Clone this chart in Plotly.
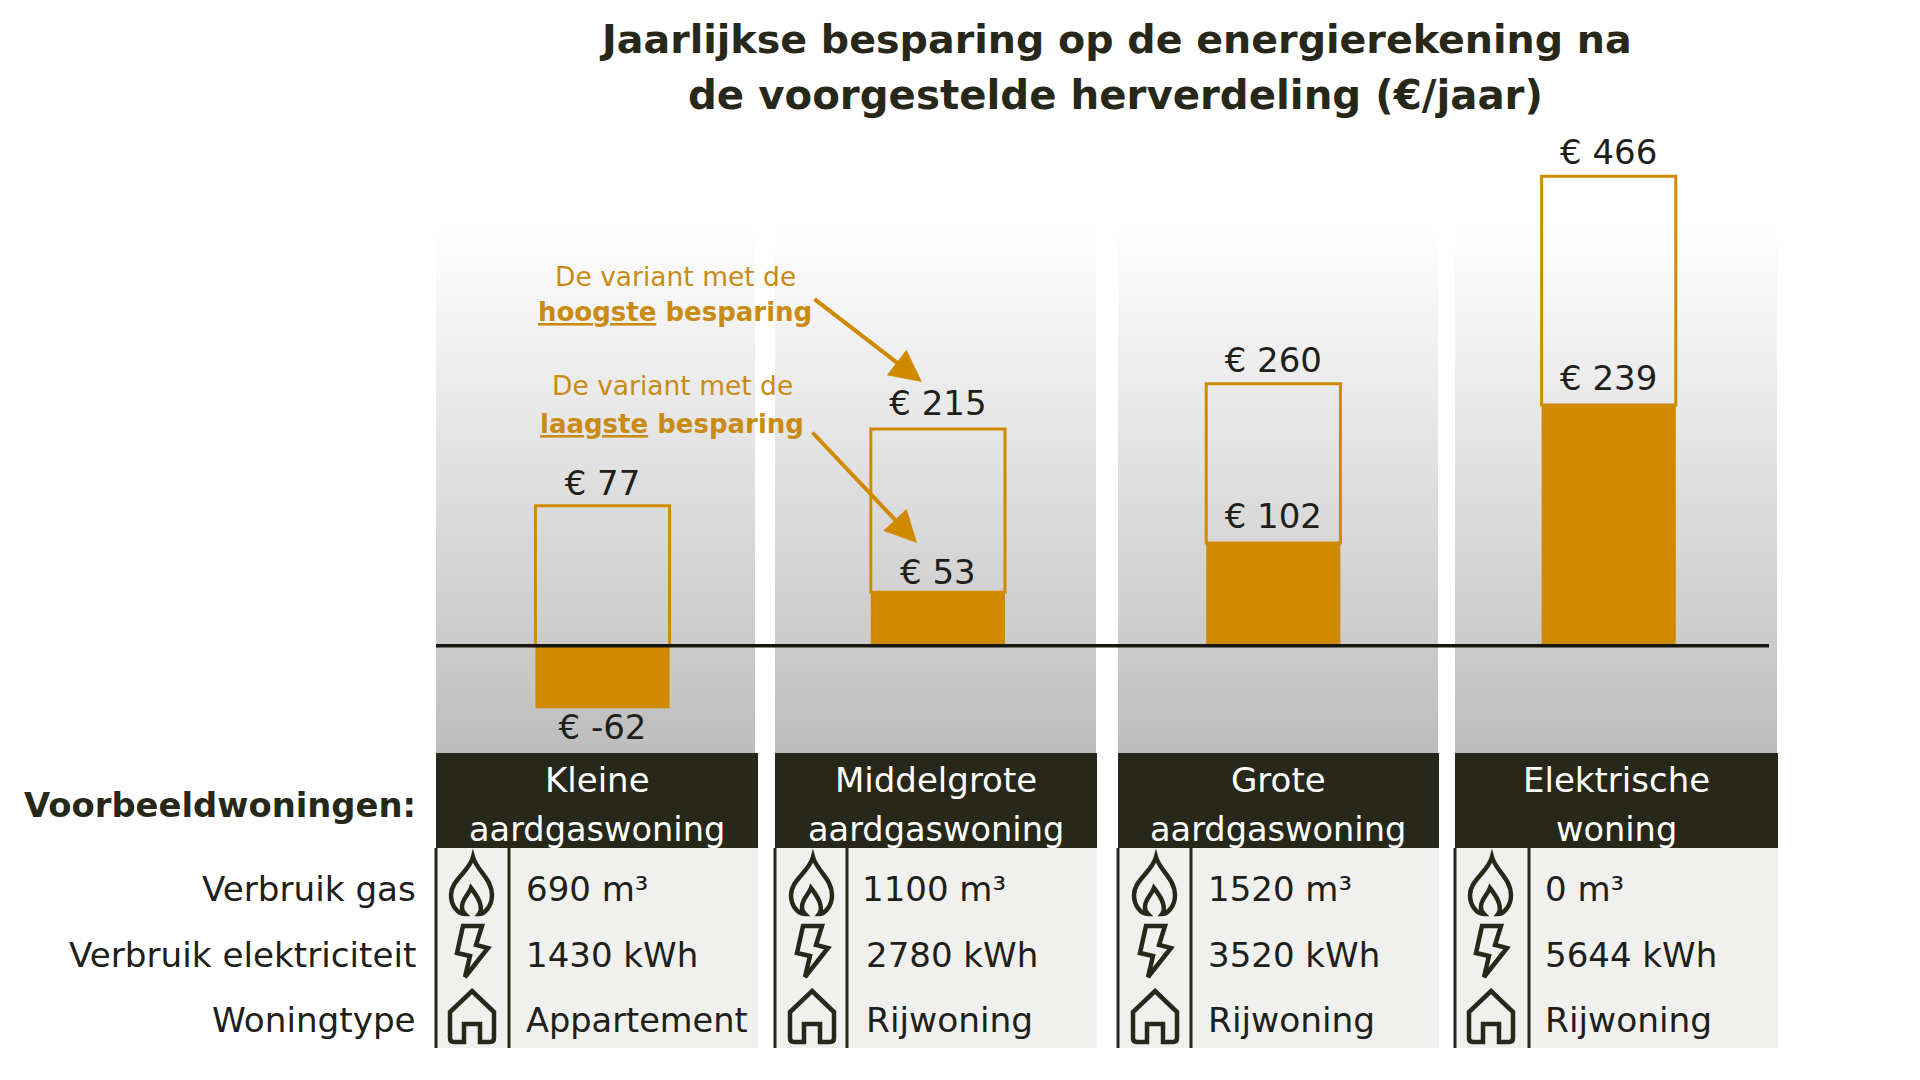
import plotly.graph_objects as go

# ---------- data ----------
categories = ["Kleine aardgaswoning", "Middelgrote aardgaswoning", "Grote aardgaswoning", "Elektrische woning"]
low_values = [-62, 53, 102, 239]
high_values = [77, 215, 260, 466]
# height of the outlined block that sits on the solid block, as drawn in the source chart
range_values = [139, 162, 158, 227]

header_line1 = ["Kleine", "Middelgrote", "Grote", "Elektrische"]
header_line2 = ["aardgaswoning", "aardgaswoning", "aardgaswoning", "woning"]
gas_values = ["690 m³", "1100 m³", "1520 m³", "0 m³"]
power_values = ["1430 kWh", "2780 kWh", "3520 kWh", "5644 kWh"]
type_values = ["Appartement", "Rijwoning", "Rijwoning", "Rijwoning"]
row_labels = ["Verbruik gas", "Verbruik elektriciteit", "Woningtype"]

title_lines = ["Jaarlijkse besparing op de energierekening na", "de voorgestelde herverdeling (€/jaar)"]

# ---------- layout constants (pixels of the 1920x1080 page) ----------
W, H = 1920, 1080
FONT = "DejaVu Sans"
AMBER = "#d08a00"
AMBER_TEXT = "#c98b14"
DARK = "#28281a"
INK = "#20201a"
TABLE_BG = "#f0f0ee"

panel_left = [436, 775, 1118, 1455]
panel_right = [758, 1097, 1439, 1778]
grad_right = [755, 1096, 1438, 1777]
divider_x = [509, 847, 1191, 1529]
icon_x = [472, 812, 1155, 1491]
gas_x = [526, 862, 1208, 1545]
other_x = [526, 866, 1208, 1545]
header_x = [597, 936, 1278, 1616]
GRAD_TOP, TABLE_TOP, BODY_TOP, TABLE_BOTTOM = 225, 753, 848, 1048
ROW_Y = [889, 955, 1020]
type_sizes = [33.6, 34.4, 34.4, 34.4]
# fine placement of the value labels, in euro units of the value axis
high_label_nudge = [2.4, 6, 3.7, 3.7]
low_label_nudge = [-5, 0, 6, 6]

# value-axis mapping: 0 at y=645.7 px, 1.0075 px per euro
PX_PER_EUR = 1.0075
ZERO_PX = 645.7
y_range = [(ZERO_PX - H) / PX_PER_EUR, ZERO_PX / PX_PER_EUR]
CAT_FIRST, CAT_STEP = 602.5, 335.4
x_range = [(0 - CAT_FIRST) / CAT_STEP, (W - CAT_FIRST) / CAT_STEP]

fig = go.Figure()

# gradient backdrops on the pixel axes
for l, r in zip(panel_left, grad_right):
    fig.add_trace(go.Scatter(
        x=[l, r, r, l, l], y=[GRAD_TOP, GRAD_TOP, TABLE_TOP, TABLE_TOP, GRAD_TOP],
        xaxis="x", yaxis="y", mode="lines", line=dict(width=0), fill="toself",
        fillgradient=dict(type="vertical", colorscale=[[0, "#bdbdbd"], [1, "#ffffff"]]),
        hoverinfo="skip", showlegend=False))

# bars on the value axes
fig.add_trace(go.Bar(x=categories, y=low_values, xaxis="x2", yaxis="y2", width=0.4,
                     marker=dict(color=AMBER, line=dict(width=0)), name="Laagste besparing", showlegend=False))
fig.add_trace(go.Bar(x=categories, y=range_values, xaxis="x2", yaxis="y2", width=0.4,
                     marker=dict(color="rgba(0,0,0,0)", line=dict(color=AMBER, width=3)),
                     name="Hoogste besparing", showlegend=False))

# value labels
high_tops = [max(v, 0) + r + n for v, r, n in zip(low_values, range_values, high_label_nudge)]
low_tops = [v + n for v, n in zip(low_values, low_label_nudge)]
fig.add_trace(go.Scatter(x=categories, y=high_tops, xaxis="x2", yaxis="y2", mode="text",
                         text=[f"€ {v}" for v in high_values], textposition="top center",
                         textfont=dict(family=FONT, size=34, color=INK), showlegend=False, hoverinfo="skip"))
fig.add_trace(go.Scatter(x=categories, y=low_tops, xaxis="x2", yaxis="y2", mode="text",
                         text=[f"€ {v}" for v in low_values],
                         textposition=["bottom center" if v < 0 else "top center" for v in low_values],
                         textfont=dict(family=FONT, size=34, color=INK), showlegend=False, hoverinfo="skip"))

shapes = []
annotations = []


def text(x, y, s, size=34, color=INK, anchor="center", bold=False):
    annotations.append(dict(xref="x", yref="y", x=x, y=y, text=f"<b>{s}</b>" if bold else s, showarrow=False,
                            xanchor=anchor, yanchor="middle",
                            font=dict(family=FONT, size=size, color=color)))


def arrow(x0, y0, x1, y1):
    annotations.append(dict(xref="x", yref="y", axref="x", ayref="y", x=x1, y=y1, ax=x0, ay=y0, text="",
                            showarrow=True, arrowhead=2, arrowsize=1.6, arrowwidth=4, arrowcolor=AMBER))


def rect(x0, y0, x1, y1, color):
    shapes.append(dict(type="rect", xref="x", yref="y", x0=x0, y0=y0, x1=x1, y1=y1,
                       fillcolor=color, line=dict(width=0), layer="below"))


FLAME = "M1,-29 C5,-15 20,-7 20,9 C20,21 12,28 7,28 C10,24 10,16 -1,2 C-3,8 -11,14 -10,22 C-10,25 -8,27 -7,28 C-14,28 -21,20 -21,9 C-21,-6 -3,-14 1,-29 Z"
BOLT = "M-9,-25 L10,-25 L4,-6 L16,-3 L-7,26 L-2,5 L-15,2 Z"
HOUSE = "M0,-26 L22,-5 L22,21 Q22,25 18,25 L8,25 L8,7 L-8,7 L-8,25 L-18,25 Q-22,25 -22,21 L-22,-5 Z"


def icon(path, cx, cy):
    out = []
    for token in path.split():
        cmd = ""
        if token[0].isalpha():
            cmd, token = token[0], token[1:]
        if token:
            xs, ys = token.split(",")
            out.append(f"{cmd}{float(xs) + cx},{float(ys) + cy}")
        else:
            out.append(cmd)
    shapes.append(dict(type="path", xref="x", yref="y", path=" ".join(out), fillcolor="rgba(0,0,0,0)",
                       line=dict(color=DARK, width=4.5), layer="above"))


# title
text(1115, 39, title_lines[0], size=39.6, color=DARK, bold=True)
text(1115, 95.5, title_lines[1], size=40.3, color=DARK, bold=True)

# callouts
text(675.5, 276, "De variant met de", size=26.5, color=AMBER_TEXT)
text(675, 312, "<u>hoogste</u> besparing", size=26, color=AMBER_TEXT, bold=True)
text(672, 385.5, "De variant met de", size=26.5, color=AMBER_TEXT)
text(672, 424, "<u>laagste</u> besparing", size=26, color=AMBER_TEXT, bold=True)
arrow(813, 298, 922, 382)
arrow(811, 431, 917, 543)

# left column
text(418, 805, "Voorbeeldwoningen:", size=33.8, color=DARK, anchor="right", bold=True)
for y, label in zip(ROW_Y, row_labels):
    text(418, y, label, anchor="right", size=34.2)

# table
for i in range(4):
    rect(panel_left[i], TABLE_TOP, panel_right[i], BODY_TOP, DARK)
    rect(panel_left[i], BODY_TOP, panel_right[i], TABLE_BOTTOM, TABLE_BG)
    for vx in (panel_left[i], divider_x[i]):
        shapes.append(dict(type="line", xref="x", yref="y", x0=vx, x1=vx, y0=BODY_TOP, y1=TABLE_BOTTOM,
                           line=dict(color=DARK, width=3)))
    text(header_x[i], 780, header_line1[i], color="#ffffff")
    text(header_x[i], 829, header_line2[i], color="#ffffff", size=33.6)
    text(gas_x[i] - 2.5, ROW_Y[0], gas_values[i], anchor="left")
    text(other_x[i] - 2.5, ROW_Y[1], power_values[i], anchor="left")
    text(other_x[i] - 2.5, ROW_Y[2], type_values[i], anchor="left", size=type_sizes[i])
    icon(FLAME, icon_x[i], 886)
    icon(BOLT, icon_x[i], 951)
    icon(HOUSE, icon_x[i], 1017)

# zero line
shapes.append(dict(type="line", xref="x", yref="y2", x0=436, x1=1769, y0=0, y1=0,
                   line=dict(color="#17170f", width=3.5), layer="above"))

hidden = dict(visible=False, showgrid=False, zeroline=False, fixedrange=True)
fig.update_layout(
    width=W, height=H, autosize=False,
    margin=dict(l=0, r=0, t=0, b=0),
    paper_bgcolor="#ffffff", plot_bgcolor="rgba(0,0,0,0)",
    barmode="relative", showlegend=False,
    font=dict(family=FONT, color=INK),
    xaxis=dict(range=[0, W], domain=[0, 1], **hidden),
    yaxis=dict(range=[H, 0], domain=[0, 1], **hidden),
    xaxis2=dict(type="category", categoryorder="array", categoryarray=categories, range=x_range,
                overlaying="x", **hidden),
    yaxis2=dict(range=y_range, overlaying="y", **hidden),
    shapes=shapes, annotations=annotations,
)

fig.write_html("out.html", post_script="document.body.style.margin='0';",
               config=dict(displayModeBar=False))
